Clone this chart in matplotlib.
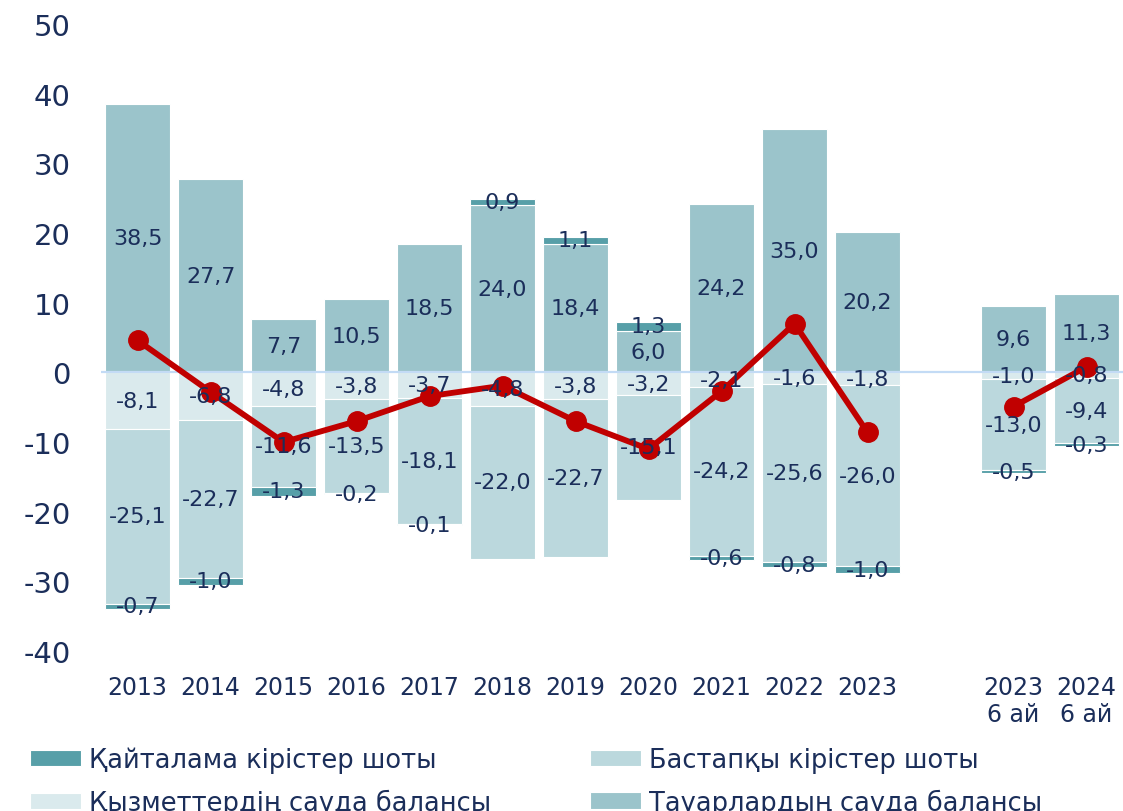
import numpy as np
import matplotlib.pyplot as plt

categories = ['2013', '2014', '2015', '2016', '2017', '2018', '2019', '2020',
              '2021', '2022', '2023', '2023\n6 ай', '2024\n6 ай']
goods = [38.5, 27.7, 7.7, 10.5, 18.5, 24.0, 18.4, 6.0, 24.2, 35.0, 20.2, 9.6, 11.3]
services = [-8.1, -6.8, -4.8, -3.8, -3.7, -4.8, -3.8, -3.2, -2.1, -1.6, -1.8, -1.0, -0.8]
primary = [-25.1, -22.7, -11.6, -13.5, -18.1, -22.0, -22.7, -15.1, -24.2, -25.6, -26.0, -13.0, -9.4]
secondary = [-0.7, -1.0, -1.3, -0.2, -0.1, 0.9, 1.1, 1.3, -0.6, -0.8, -1.0, -0.5, -0.3]
current = [4.6, -2.8, -10.0, -7.0, -3.4, -1.9, -7.0, -11.0, -2.7, 7.0, -8.6, -4.9, 0.8]

label_goods = 'Тауарлардың сауда балансы'
label_services = 'Қызметтердің сауда балансы'
label_primary = 'Бастапқы кірістер шоты'
label_secondary = 'Қайталама кірістер шоты'

c_goods = '#9BC4CB'
c_services = '#DAEAED'
c_primary = '#BBD8DD'
c_secondary = '#579FA8'
c_line = '#C00000'
navy = '#1B2E5A'

plt.rcParams['font.family'] = ['DejaVu Sans']
plt.rcParams['axes.unicode_minus'] = False

n = len(categories)
x = np.arange(n, dtype=float)
x[11:] += 1  # gap before half-year bars

goods = np.array(goods)
services = np.array(services)
primary = np.array(primary)
secondary = np.array(secondary)
current = np.array(current)

fig = plt.figure(figsize=(11.23, 8.12), dpi=100)
ax = fig.add_axes([0.09, 0.197, 0.91, 0.772])

w = 0.9
ekw = dict(edgecolor='white', linewidth=0.8, zorder=2)
b_goods = ax.bar(x, goods, w, color=c_goods, **ekw)
b_serv = ax.bar(x, services, w, color=c_services, **ekw)
b_prim = ax.bar(x, primary, w, bottom=services, color=c_primary, **ekw)
sec_bottom = np.where(secondary > 0, goods, services + primary)
b_sec = ax.bar(x, secondary, w, bottom=sec_bottom, color=c_secondary, **ekw)

ax.axhline(0, color='#C3DBF5', linewidth=1.6, zorder=3)

def fmt(v):
    return f'{v:.1f}'.replace('.', ',')

tkw = dict(ha='center', va='center', fontsize=16, color=navy, zorder=6)
for i in range(n):
    ax.text(x[i], goods[i] / 2, fmt(goods[i]), **tkw)
    ax.text(x[i], services[i] / 2, fmt(services[i]), **tkw)
    ax.text(x[i], services[i] + primary[i] / 2, fmt(primary[i]), **tkw)
    ax.text(x[i], sec_bottom[i] + secondary[i] / 2, fmt(secondary[i]), **tkw)

lkw = dict(color=c_line, linewidth=4.2, marker='o', markersize=14, zorder=5)
ax.plot(x[:11], current[:11], **lkw)
ax.plot(x[11:], current[11:], **lkw)

ax.set_xlim(-0.5, 13.5)
ax.set_ylim(-40, 50)
ax.set_yticks(np.arange(-40, 51, 10))
ax.set_xticks(x)
ax.set_xticklabels(categories)
ax.tick_params(axis='y', length=0, labelsize=21, labelcolor=navy, pad=22)
ax.tick_params(axis='x', length=0, labelsize=17, labelcolor=navy, pad=17)
for s in ax.spines.values():
    s.set_visible(False)

leg_kw = dict(loc='upper left', frameon=False, fontsize=18.5, labelcolor=navy,
              handlelength=2.0, handleheight=0.6, handletextpad=0.3,
              labelspacing=0.6, borderpad=0, borderaxespad=0)
leg1 = fig.legend([b_sec, b_serv], [label_secondary, label_services],
                  bbox_to_anchor=(30 / 1123, 0.079), **leg_kw)
leg2 = fig.legend([b_prim, b_goods], [label_primary, label_goods],
                  bbox_to_anchor=(590 / 1123, 0.079), **leg_kw)

fig.savefig('out.png', dpi=100)
